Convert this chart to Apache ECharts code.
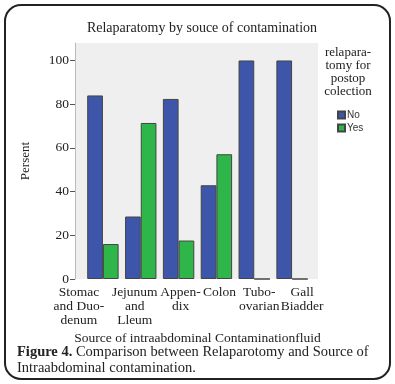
<!DOCTYPE html>
<html><head><meta charset="utf-8">
<script src="https://cdn.jsdelivr.net/npm/echarts@6/dist/echarts.min.js"></script>
<style>html,body{margin:0;padding:0;background:#fff}#c{width:395px;height:384px}</style>
</head><body><div id="c"></div>
<script>
const categories = ["Stomac\nand Duo-\ndenum", "Jejunum\nand\nLleum", "Appen-\ndix", "Colon", "Tubo-\novarian", "Gall\nBiadder"];
const noValues = [84, 28.6, 82.4, 42.9, 100, 100];
const yesValues = [16, 71.4, 17.6, 57.1, 0, 0];
const yTicks = [0, 20, 40, 60, 80, 100];
const SERIF = '"Liberation Serif", "DejaVu Serif", serif';
// horizontal nudges of the category labels (px), as laid out in the original figure
const labelNudge = [-24, -6, 2, 3, 5, 10];
const rich = {};
labelNudge.forEach((d, i) => {
  rich['s' + i] = {fontFamily: SERIF, fontSize: 13.5, color: '#222', lineHeight: 14,
    padding: d < 0 ? [0, -2 * d, 0, 0] : [0, 0, 0, 2 * d]};
});
const chart = echarts.init(document.getElementById('c'), null, {renderer: 'canvas'});
chart.setOption({
  animation: false,
  backgroundColor: '#fff',
  title: {
    text: 'Relaparatomy by souce of contamination',
    left: 197, top: 16, textAlign: 'center',
    textStyle: {fontFamily: SERIF, fontSize: 14, fontWeight: 'normal', color: '#222'}
  },
  legend: {
    orient: 'vertical', left: 337, top: 110, padding: 0, itemWidth: 7, itemHeight: 7, itemGap: 3,
    icon: 'rect',
    textStyle: {fontFamily: '"Liberation Sans", Arial, sans-serif', fontSize: 10, color: '#333', padding: [0,0,0,-3]},
    data: ['No', 'Yes']
  },
  grid: {left: 84, width: 227, top: 43, height: 236},
  xAxis: {
    type: 'category', data: categories,
    name: 'Source of intraabdominal Contaminationfluid', nameLocation: 'middle', nameGap: 52,
    nameTextStyle: {fontFamily: SERIF, fontSize: 13.5, color: '#222'},
    axisLine: {show: false},
    axisTick: {alignWithLabel: true, length: 4, lineStyle: {color: '#444'}},
    axisLabel: {interval: 0, fontFamily: SERIF, fontSize: 13.5, color: '#222', lineHeight: 14, margin: 6,
      formatter: (v, i) => v.split('\n').map(l => '{s' + i + '|' + l + '}').join('\n'),
      rich: rich}
  },
  yAxis: {
    type: 'value', min: 0, max: 108, interval: 20, offset: 9,
    name: 'Persent', nameLocation: 'middle', nameGap: 43, nameRotate: 90,
    nameTextStyle: {fontFamily: SERIF, fontSize: 13, color: '#222'},
    splitLine: {show: false},
    axisLine: {show: true, lineStyle: {color: '#bbb'}},
    axisTick: {show: true, length: 5, lineStyle: {color: '#555'}, customValues: yTicks},
    axisLabel: {fontFamily: SERIF, fontSize: 13.5, color: '#222', margin: 6, customValues: yTicks}
  },
  graphic: [
    {type: 'rect', z: -10, shape: {x: 75, y: 43, width: 243, height: 236}, style: {fill: '#efefef'}},
    {type: 'rect', z: 100, shape: {x: 5, y: 5, width: 385, height: 374, r: 16}, style: {fill: 'none', stroke: '#222', lineWidth: 2}},
    {type: 'text', z: 10, x: 348, y: 46,
     style: {text: 'relapara-\ntomy for\npostop\ncolection', font: '13px ' + SERIF, fill: '#222', align: 'center', verticalAlign: 'top', lineHeight: 13}},
    {type: 'text', z: 10, left: 17, top: 344,
     style: {text: '{b|Figure 4.} Comparison between Relaparotomy and Source of\nIntraabdominal contamination.',
       font: '14.5px ' + SERIF, fill: '#222', lineHeight: 16,
       rich: {b: {fontWeight: 'bold', fontFamily: SERIF, fontSize: 14.5, fill: '#222'}}}}
  ],
  series: [
    {name: 'No', type: 'bar', data: noValues, barGap: '0%', barCategoryGap: '17%',
     itemStyle: {color: '#3d56aa', borderColor: '#444', borderWidth: 1}},
    {name: 'Yes', type: 'bar', data: yesValues,
     itemStyle: {color: '#2eb64a', borderColor: '#444', borderWidth: 1}}
  ]
});
</script></body></html>
